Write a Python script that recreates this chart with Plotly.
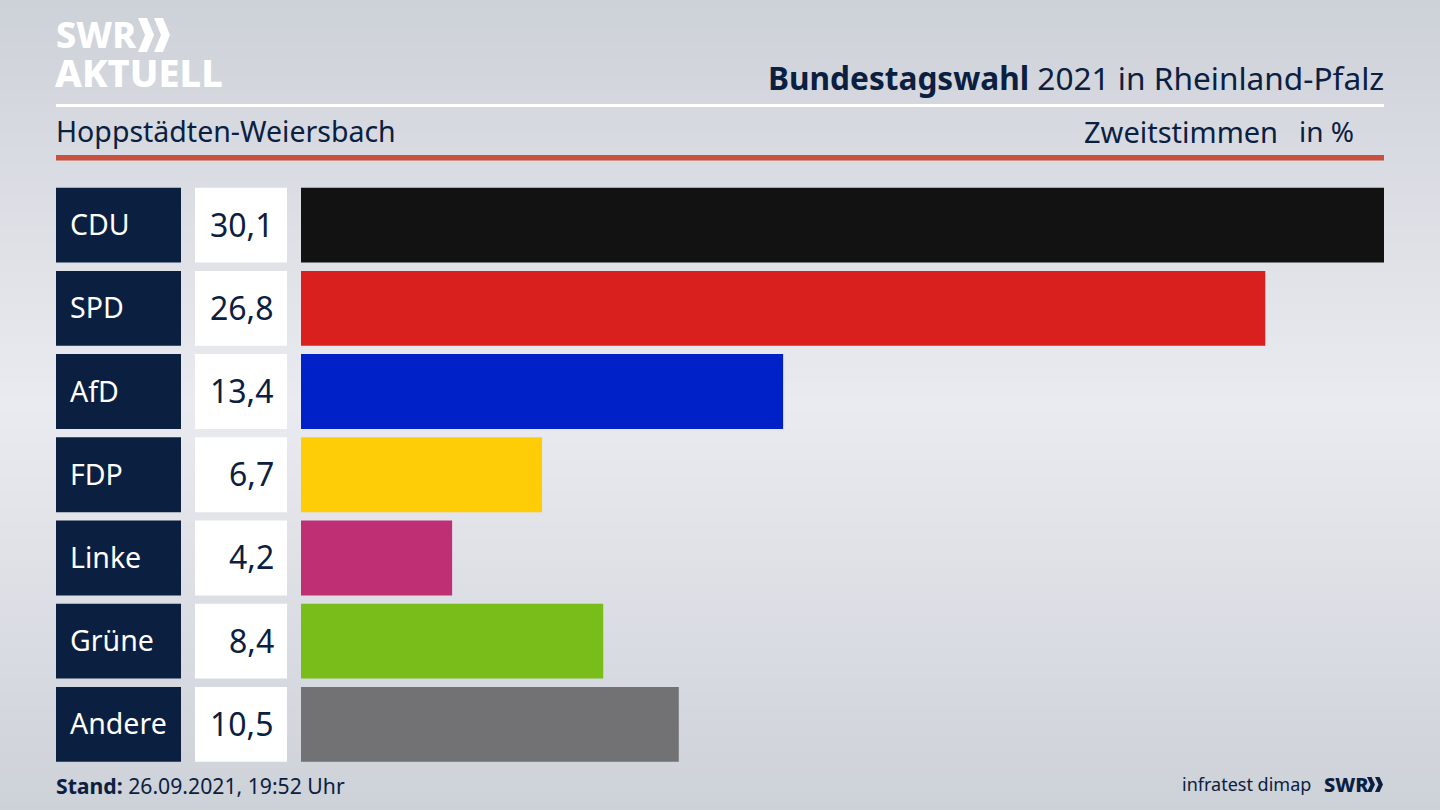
import plotly.graph_objects as go

# Werte aus dem Bild
parties = ['CDU', 'SPD', 'AfD', 'FDP', 'Linke', 'Grüne', 'Andere']
values = [30.1, 26.8, 13.4, 6.7, 4.2, 8.4, 10.5]
value_labels = ['30,1', '26,8', '13,4', '6,7', '4,2', '8,4', '10,5']
bar_colors = ['#121212', '#da1f1f', '#0021c8', '#ffcc08', '#bf2f74', '#79bd1a', '#727274']

W, H = 1440, 810
NAVY = '#0b2040'
FONT = 'Noto Sans'


def px(x):
    return x / W


def py(y):
    return 1 - y / H


def chevrons(x0, y0, w, h):
    # zwei Pfeile vom Logo, Angaben in Pixeln
    path = ''
    arm = w * 0.28
    for off in (0, w * 0.5):
        l = x0 + off
        path += f'M{px(l)},{py(y0)} L{px(l + arm)},{py(y0)} L{px(l + w * 0.5)},{py(y0 + h / 2)} ' \
                f'L{px(l + arm)},{py(y0 + h)} L{px(l)},{py(y0 + h)} L{px(l + w * 0.5 - arm)},{py(y0 + h / 2)} Z '
    return dict(type='path', xref='paper', yref='paper', path=path, fillcolor='white', line_width=0)


def text(x, y, s, size, anchor='left', color=NAVY, weight=None):
    font = dict(family=FONT, size=size, color=color)
    if weight:
        font['weight'] = weight
    return dict(x=px(x), y=py(y), xref='paper', yref='paper', text=s, showarrow=False, xanchor=anchor,
                yanchor='middle', font=font)


fig = go.Figure()

# Hintergrund mit Verlauf
fig.add_trace(go.Heatmap(z=[[0, 0], [1, 1], [0, 0]], x=[0, 1], y=[0, 0.5, 1], zsmooth='best', showscale=False,
                         colorscale=[[0, '#cdd1d8'], [1, '#eaebf0']], hoverinfo='skip',
                         xaxis='x', yaxis='y'))

# Balken
fig.add_trace(go.Bar(x=values, y=parties, orientation='h', marker_color=bar_colors, marker_line_width=0,
                     xaxis='x2', yaxis='y2', hoverinfo='skip'))
# Kaesten fuer Partei und Wert
fig.add_trace(go.Bar(x=[1] * 7, y=parties, orientation='h', marker_color=NAVY, marker_line_width=0,
                     xaxis='x3', yaxis='y2', hoverinfo='skip'))
fig.add_trace(go.Bar(x=[1] * 7, y=parties, orientation='h', marker_color='white', marker_line_width=0,
                     xaxis='x4', yaxis='y2', hoverinfo='skip'))

annotations = [
    text(1386, 77, '<b>Bundestagswahl</b> 2021 in Rheinland-Pfalz', 31.6, 'right'),
    text(54, 131, 'Hoppstädten-Weiersbach', 28.5),
    text(1280, 131, 'Zweitstimmen', 29, 'right'),
    text(1356, 131, 'in %', 28, 'right'),
    text(54, 785, '<b>Stand:</b> 26.09.2021, 19:52 Uhr', 21.2),
    text(1313, 784, 'infratest dimap', 18, 'right'),
    text(1322, 784, 'SWR', 20, weight=800),
    text(54, 35, 'SWR', 36, 'left', 'white', 800),
    text(53, 72, 'AKTUELL', 38, 'left', 'white', 800),
]
for p, lab in zip(parties, value_labels):
    annotations.append(dict(x=px(68), y=p, xref='paper', yref='y2', text=p, showarrow=False, xanchor='left',
                            yanchor='middle', yshift=1, font=dict(family=FONT, size=28.5, color='white')))
    annotations.append(dict(x=px(276), y=p, xref='paper', yref='y2', text=lab, showarrow=False, xanchor='right',
                            yanchor='middle', yshift=1, font=dict(family=FONT, size=32, color=NAVY)))

shapes = [
    dict(type='rect', xref='paper', yref='paper', x0=px(56), x1=px(1384), y0=py(104), y1=py(107),
         fillcolor='white', line_width=0),
    dict(type='rect', xref='paper', yref='paper', x0=px(56), x1=px(1384), y0=py(155), y1=py(160.5),
         fillcolor='#c9503c', line_width=0),
    chevrons(138, 18, 32, 34),
    chevrons(1367, 777, 16, 15),
]
shapes[-1]['fillcolor'] = NAVY

hidden = dict(visible=False, fixedrange=True)
fig.update_layout(
    width=W, height=H, margin=dict(l=0, r=0, t=0, b=0), showlegend=False, bargap=0.1,
    paper_bgcolor='#dcdee4', plot_bgcolor='rgba(0,0,0,0)',
    xaxis=dict(domain=[0, 1], range=[0, 1], **hidden),
    yaxis=dict(domain=[0, 1], range=[0, 1], **hidden),
    xaxis2=dict(domain=[px(301), px(1384)], range=[0, 30.1], anchor='y2', **hidden),
    xaxis3=dict(domain=[px(56), px(181)], range=[0, 1], anchor='y2', **hidden),
    xaxis4=dict(domain=[px(195), px(287)], range=[0, 1], anchor='y2', **hidden),
    yaxis2=dict(domain=[py(766), py(183.5)], autorange='reversed', type='category', anchor='x2', **hidden),
    annotations=annotations, shapes=shapes,
)

# Seitenrand vom Browser weg, sonst ist alles um 8px verschoben
fig.write_html('out.html', config=dict(displayModeBar=False),
               post_script="document.body.style.margin='0';document.body.style.overflow='hidden';")
